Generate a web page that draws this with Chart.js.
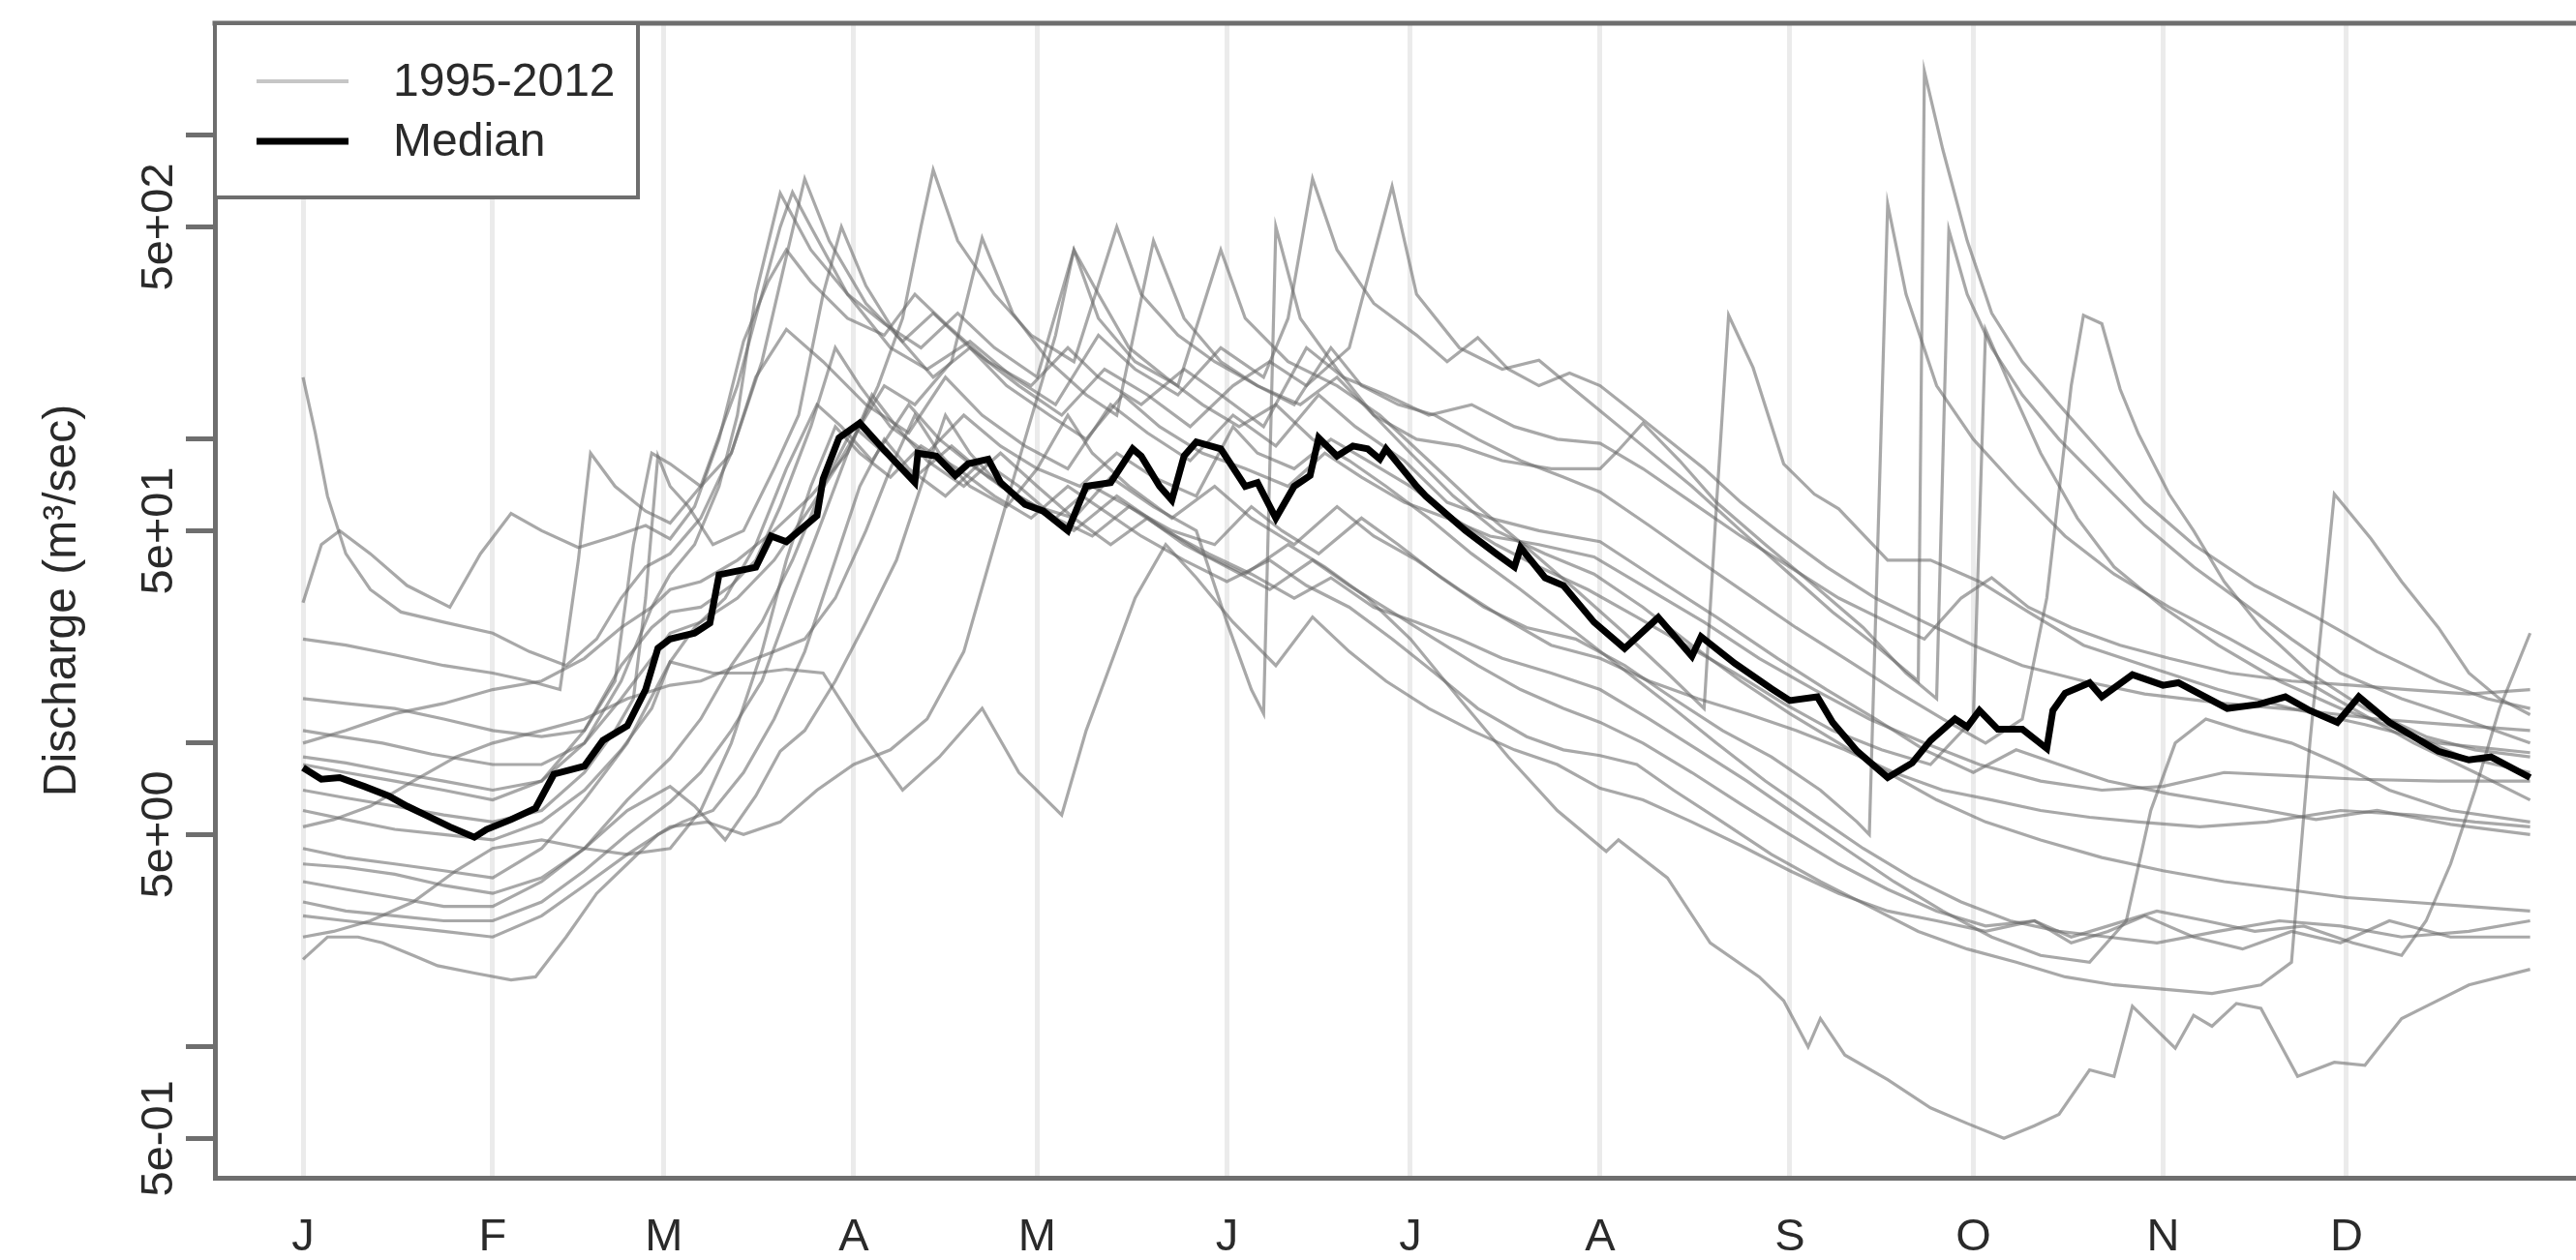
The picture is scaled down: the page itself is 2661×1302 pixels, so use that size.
<!DOCTYPE html>
<html>
<head>
<meta charset="utf-8">
<script src="https://cdn.jsdelivr.net/npm/chart.js@4.4.1/dist/chart.umd.min.js"></script>
<style>
  html, body { margin: 0; padding: 0; background: #fff; }
  #chart { display: block; }
</style>
</head>
<body>
<canvas id="chart" width="2661" height="1302"></canvas>
<script>
// axis labels
const monthLabels = ["J", "F", "M", "A", "M", "J", "J", "A", "S", "O", "N", "D"];
const monthStartDays = [1, 32, 60, 91, 121, 152, 182, 213, 244, 274, 305, 335];
const yTickValues = [0.5, 1, 5, 10, 50, 100, 500, 1000];
const yTickLabels = ["5e-01", "", "5e+00", "", "5e+01", "", "5e+02", ""];
const legendLabels = ["1995-2012", "Median"];

// median discharge, [day of year, m3/s]
const medianQ = [[1,8.3],[4,7.6],[7,7.7],[11,7.2],[15,6.7],[18,6.2],[21,5.8],[25,5.3],[29,4.9],[31,5.2],[35,5.6],[39,6.1],[42,7.9],[47,8.4],[50,10.2],[54,11.4],[57,15],[59,20.5],[61,22],[65,23],[67.5,24.8],[69,35.8],[75,37.9],[77.5,48],[80,46],[85,56],[86,74],[88.6,101],[92,113],[96,92],[101,72],[101.5,90],[104.5,88],[107.6,76],[109.7,83],[113,86],[115,72],[119,61],[122,58],[126,50],[129,70],[133,72],[136.6,93],[138,88],[141,70],[143,63],[145,88],[147,98],[151,93],[155,70],[157,72],[160,55],[163,70],[165.6,76],[167,101],[170,88],[172.6,95],[175,93],[177,86],[178,93],[183,70],[184.5,65],[191,50],[196,42],[199,38],[200,44],[204,35],[207,33],[212,25],[217,20.5],[222.5,25.9],[228,19.3],[229.5,22.4],[235,18.3],[241,15.1],[244,13.8],[248.5,14.2],[251,11.7],[255,9.4],[260,7.7],[264,8.6],[267,10.2],[271,12],[273,11.3],[275,12.8],[278,11.1],[282,11.1],[286,9.6],[287,12.8],[289,14.6],[293,15.8],[295,14.2],[300,16.8],[305,15.5],[307.5,15.8],[315.5,13],[320.6,13.4],[325,14.2],[329,12.8],[333.5,11.7],[337,14.2],[342,11.7],[350,9.4],[355,8.8],[358.6,9],[365,7.7]];

// yearly series, [day of year, m3/s]
const q1995 = [[1,160],[3,105],[5,65],[8,42],[12,32],[17,27],[24,25],[32,23],[38,20],[44,18],[49,22],[53,30],[57,38],[61,42],[66,55],[71,90],[75,160],[80,230],[86,180],[93,130],[100,105],[106,160],[112,120],[119,95],[126,80],[133,130],[139,105],[146,85],[153,120],[160,95],[167,140],[173,110],[181,85],[188,62],[195,55],[203,50],[213,46],[222,35],[232,26],[242,19],[250,15],[258,12],[266,9.5],[274,8],[281,9.5],[288,8.5],[296,7.5],[306,6.8],[318,6.2],[330,5.6],[340,6],[352,5.4],[365,5]];
const q1996 = [[1,29],[4,45],[7,50],[12,42],[18,33],[25,28],[30,42],[35,57],[40,50],[46,44],[52,48],[57,52],[61,47],[65,60],[69,100],[73,210],[77,330],[80,420],[84,330],[90,250],[96,220],[101,300],[106,240],[113,180],[120,150],[126,200],[131,160],[138,130],[145,170],[151,140],[158,110],[165,200],[171,160],[178,140],[185,120],[192,130],[199,110],[206,100],[213,97],[220,80],[228,62],[236,48],[244,38],[252,30],[260,25],[266,22],[272,30],[277,35],[283,28],[290,24],[298,21],[306,19],[316,17],[326,16],[336,15.5],[345,15],[355,14.5],[365,15]];
const q1997 = [[1,22],[8,21],[16,19.5],[24,18],[32,17],[38,16],[43,15],[46,40],[48,90],[52,70],[57,58],[61,53],[66,70],[72,150],[76,300],[79,500],[81,650],[84,500],[90,300],[97,200],[103,170],[110,210],[117,160],[124,130],[131,220],[137,170],[144,140],[151,200],[158,160],[162,250],[166,720],[170,420],[176,280],[183,220],[188,180],[193,216],[198,170],[203,150],[208,165],[213,150],[218,125],[224,100],[230,80],[236,62],[242,50],[250,38],[258,30],[266,25],[274,21],[282,18],[292,16],[302,14.5],[315,13.5],[328,12.8],[340,12],[352,11.5],[365,11]];
const q1998 = [[1,14],[8,13.5],[16,13],[24,12],[32,11],[40,10.5],[47,11],[52,16],[55,45],[58,90],[61,83],[66,70],[71,90],[76,180],[80,400],[83,720],[87,450],[93,280],[99,210],[104,260],[110,200],[118,150],[125,120],[132,170],[139,140],[146,110],[153,150],[159,180],[165,150],[172,200],[179,680],[183,300],[190,200],[197,170],[203,182],[208,150],[213,124],[220,95],[228,70],[236,50],[244,36],[251,27],[258,21],[265,16],[266,1626],[269,900],[273,450],[277,260],[282,180],[288,130],[295,90],[302,62],[310,45],[320,33],[330,26],[340,20],[350,16],[358,14],[365,13]];
const q1999 = [[1,11],[7,10.5],[14,10],[22,9.2],[32,8.5],[40,8.5],[47,10],[53,16],[58,28],[61,36],[65,45],[69,70],[72,120],[75,300],[79,645],[84,420],[90,300],[96,240],[102,200],[108,260],[114,200],[121,160],[127,420],[131,250],[137,180],[144,150],[151,420],[155,250],[162,180],[170,150],[177,120],[185,85],[193,60],[201,44],[209,32],[217,23],[224,17],[230,13],[232,60],[234,256],[238,172],[243,83],[248,66],[252,59],[260,40],[267,40],[275,34],[283,27],[292,21],[302,18],[314,15],[326,13],[338,11.5],[350,10],[365,9.3]];
const q2000 = [[1,10],[8,11],[16,12.5],[24,13.5],[32,15],[40,16],[47,19],[53,24],[58,28],[61,32],[66,34],[72,40],[78,50],[84,65],[90,90],[95,150],[99,250],[102,500],[104,770],[108,450],[114,300],[120,220],[127,180],[134,500],[138,300],[144,220],[150,180],[157,150],[164,130],[170,160],[176,120],[183,100],[190,95],[197,85],[205,80],[213,80],[216,92],[220,113],[226,85],[232,62],[240,45],[248,33],[256,24],[263,17],[268,14],[270,488],[273,300],[277,200],[282,140],[288,100],[295,72],[302,52],[310,38],[318,29],[326,22],[334,17],[344,14],[354,12],[365,10]];
const q2001 = [[1,9],[8,8.6],[16,8],[24,7.5],[32,7],[40,7.5],[47,10],[53,14],[58,19],[61,23],[66,25],[72,30],[78,40],[84,60],[88,80],[92,110],[96,150],[101,130],[107,180],[112,460],[117,260],[123,180],[129,140],[134,120],[140,450],[145,250],[151,180],[157,150],[163,130],[169,200],[174,150],[180,130],[186,120],[193,100],[200,85],[207,75],[213,67],[221,52],[229,40],[237,31],[245,24],[253,19],[261,15],[269,12],[276,10],[282,12],[286,30],[290,150],[292,256],[295,240],[298,146],[301,104],[306,66],[310,50],[315,34],[321,24],[329,17],[338,13],[348,10.5],[356,9.5],[365,9]];
const q2002 = [[1,8.5],[8,8],[16,7.5],[24,7],[32,6.5],[40,7.5],[47,11],[53,18],[58,24],[61,27],[66,28],[71,33],[75,40],[79,60],[84,110],[88,200],[92,150],[97,110],[103,90],[109,120],[115,95],[121,80],[128,70],[134,90],[140,75],[147,65],[153,110],[157,90],[163,80],[169,100],[175,85],[182,70],[189,55],[196,45],[203,38],[211,32],[219,26],[227,21],[235,17],[243,13.5],[251,11],[259,9.5],[267,8.5],[274,12],[276,229],[280,150],[285,90],[291,55],[297,38],[305,28],[314,21],[324,16],[334,13],[344,11],[354,9],[365,8]];
const q2003 = [[1,7],[8,6.6],[16,6.2],[24,5.8],[32,5.5],[40,6],[47,8],[52,11],[55,14],[57,30],[59,88],[61,70],[64,60],[68,45],[73,50],[78,80],[82,120],[86,300],[89,500],[93,320],[98,220],[104,160],[110,200],[116,150],[123,120],[129,100],[135,140],[141,110],[148,90],[155,80],[162,70],[168,90],[174,75],[181,62],[188,55],[195,48],[203,45],[212,41],[221,32],[230,25],[239,19],[248,15],[257,12],[266,10],[275,8.5],[285,7.5],[295,7],[305,7.2],[315,8],[326,7.8],[337,7.6],[350,7.5],[365,7.5]];
const q2004 = [[1,6],[8,5.6],[16,5.2],[24,5],[32,4.8],[40,5.5],[47,7],[53,9.5],[58,13],[61,18.5],[68,17],[75,17],[80,17.5],[86,17],[92,11],[99,7],[105,9],[112,13],[118,8],[125,5.8],[129,11],[132,16],[137,30],[142,45],[147,35],[153,25],[160,18],[166,26],[172,20],[178,16],[185,13],[192,11],[199,9.5],[206,8.5],[213,7.1],[220,6.5],[228,5.5],[236,4.6],[244,3.8],[252,3.2],[260,2.8],[268,2.6],[276,2.4],[284,2.6],[290,2.2],[296,2.4],[302,2.7],[310,2.3],[318,2.1],[326,2.4],[334,2.2],[342,2.6],[352,2.3],[365,2.3]];
const q2005 = [[1,5.3],[6,5.6],[12,6.2],[19,7.5],[26,9],[32,10],[40,11],[47,12],[54,14],[61,15.5],[66,16],[72,18],[78,20],[83,22],[88,30],[93,50],[97,80],[101,120],[105,90],[110,70],[116,60],[121,80],[126,120],[130,90],[136,70],[143,55],[150,70],[156,55],[163,45],[170,60],[176,48],[183,40],[190,32],[197,26],[205,21],[213,19],[221,16],[229,14],[237,12.5],[245,11],[253,9.5],[261,8],[269,7],[277,6.5],[285,6],[293,5.7],[301,5.5],[311,5.3],[322,5.5],[334,6],[346,5.8],[356,5.5],[365,5.3]];
const q2006 = [[1,4.5],[8,4.2],[16,4],[24,3.8],[32,3.6],[40,4.5],[47,6.5],[54,10],[61,18.5],[65,24],[70,30],[75,45],[80,80],[85,130],[89,110],[94,85],[100,130],[105,100],[111,80],[118,65],[124,55],[130,70],[136,60],[143,50],[150,45],[156,60],[161,50],[167,42],[174,55],[180,45],[187,35],[194,28],[201,24],[209,22],[217,18],[225,14],[233,11],[241,9],[249,7],[255,5.5],[257,5],[260,594],[263,300],[268,150],[274,100],[281,70],[289,48],[297,36],[306,28],[316,22],[326,17],[336,13],[346,10],[356,8],[365,6.5]];
const q2007 = [[1,4],[8,3.9],[16,3.7],[24,3.4],[32,3.2],[40,3.6],[47,4.5],[54,6],[61,7.2],[65,6.2],[70,4.8],[75,6.7],[79,9.4],[83,11],[88,16],[93,25],[98,40],[102,70],[106,120],[110,90],[115,70],[121,60],[127,55],[133,75],[140,60],[147,50],[152,25],[156,15],[158,12.5],[160,500],[164,250],[170,170],[176,120],[182,90],[189,65],[196,50],[204,42],[212,36],[220,28],[228,21],[236,16],[244,12.5],[252,10],[260,8],[268,6.5],[276,5.5],[285,4.8],[295,4.2],[305,3.8],[315,3.5],[325,3.3],[335,3.1],[345,3],[355,2.9],[365,2.8]];
const q2008 = [[1,3.5],[8,3.3],[16,3.1],[24,2.9],[32,2.9],[40,3.5],[47,4.5],[54,6.5],[61,8.9],[66,12],[71,18],[76,25],[81,40],[86,70],[91,110],[96,90],[101,75],[107,95],[113,75],[120,60],[127,50],[134,65],[141,52],[148,42],[155,36],[162,45],[168,38],[175,30],[182,22],[190,14],[198,9],[206,6],[214,4.4],[216,4.8],[224,3.6],[231,2.2],[239,1.7],[243,1.42],[247,1],[249,1.24],[253,0.94],[260,0.78],[267,0.63],[273,0.56],[279,0.5],[284,0.55],[288,0.6],[293,0.84],[297,0.8],[300,1.36],[307,0.99],[310,1.27],[313,1.17],[317,1.39],[321,1.34],[327,0.8],[333,0.89],[338,0.87],[344,1.24],[348,1.36],[355,1.6],[365,1.8]];
const q2009 = [[1,3],[8,2.8],[16,2.7],[24,2.6],[32,2.6],[40,3],[47,3.8],[54,5],[61,6.4],[66,8],[71,11],[76,16],[81,30],[86,55],[90,90],[94,140],[98,110],[103,85],[109,70],[115,90],[121,70],[127,55],[133,45],[139,55],[145,45],[152,38],[159,32],[166,40],[172,33],[179,27],[186,22],[193,18],[200,15],[207,13],[213,11.7],[220,10],[228,8],[236,6.3],[244,5],[252,4],[260,3.3],[268,2.8],[276,2.5],[284,2.6],[290,2.3],[296,2.5],[304,2.8],[312,2.6],[320,2.4],[328,2.5],[336,2.2],[344,2],[348,2.6],[352,4],[356,7],[360,13],[365,23]];
const q2010 = [[1,2.7],[8,2.6],[16,2.5],[24,2.4],[32,2.3],[40,2.7],[47,3.4],[54,4.3],[61,5.3],[67,5.5],[73,5],[79,5.5],[85,7],[91,8.5],[97,9.5],[103,12],[109,20],[114,45],[119,100],[124,220],[127,420],[131,300],[136,200],[142,160],[148,130],[154,110],[160,130],[166,100],[172,85],[178,70],[185,55],[192,42],[200,32],[208,24],[216,18],[224,13.5],[232,10],[240,7.5],[248,5.8],[256,4.5],[264,3.6],[272,3],[280,2.6],[288,2.4],[296,2.3],[304,2.2],[314,2.4],[324,2.6],[334,2.5],[344,2.3],[355,2.4],[365,2.6]];
const q2011 = [[1,2.3],[6,2.4],[12,2.6],[19,3],[26,3.8],[32,4.5],[40,4.8],[47,4.5],[54,4.3],[61,4.5],[66,6],[71,10],[76,20],[80,40],[84,70],[88,110],[92,90],[97,75],[102,95],[108,80],[114,65],[120,55],[126,70],[132,58],[138,48],[145,40],[152,34],[159,40],[165,33],[172,28],[179,22],[186,17],[193,13],[201,10.5],[207,9.5],[213,9.1],[219,8.5],[225,7],[233,5.5],[241,4.3],[249,3.5],[257,2.9],[265,2.4],[273,2.1],[281,1.9],[289,1.7],[297,1.6],[305,1.55],[313,1.5],[321,1.6],[326,1.9],[329,10],[333,66],[339,47],[344,34],[350,24],[355,17],[360,14],[365,12.4]];
const q2012 = [[1,1.94],[5,2.3],[10,2.3],[14,2.2],[19,2],[23,1.85],[29,1.75],[35,1.66],[39,1.7],[44,2.3],[49,3.2],[54,4],[59,5],[63,5.5],[68,6],[73,8],[78,12],[83,20],[88,40],[92,70],[96,100],[100,80],[106,65],[112,85],[118,70],[124,55],[130,48],[136,60],[142,50],[149,42],[156,36],[163,30],[169,35],[176,28],[183,25],[190,22],[197,19],[205,17],[213,15],[221,12],[229,9.5],[237,7.5],[245,5.8],[253,4.5],[261,3.5],[269,2.8],[277,2.3],[285,2],[293,1.9],[299,2.6],[303,6],[307,10],[312,12],[318,11],[326,10],[334,8.5],[342,7],[352,6],[365,5.5]];

const yearNames = ["1995","1996","1997","1998","1999","2000","2001","2002","2003","2004","2005","2006","2007","2008","2009","2010","2011","2012"];
const yearSeries = [q1995, q1996, q1997, q1998, q1999, q2000, q2001, q2002, q2003, q2004, q2005, q2006, q2007, q2008, q2009, q2010, q2011, q2012];

const axisColor = "#6e6e6e";
const yearColor = "rgba(105, 105, 105, 0.58)";
const textColor = "#2a2a2a";
const fontFamily = '"Liberation Sans", Arial, sans-serif';

Chart.defaults.font.family = fontFamily;

const toPoints = (rows) => rows.map(([d, q]) => ({ x: d, y: q }));

// median first so it is drawn on top
const datasets = [{
    label: legendLabels[1],
    data: toPoints(medianQ),
    borderColor: "#000",
    borderWidth: 7,
    pointRadius: 0,
    tension: 0,
    fill: false,
}];
yearSeries.forEach((rows, i) => {
    datasets.push({
        label: yearNames[i],
        data: toPoints(rows),
        borderColor: yearColor,
        borderWidth: 3.2,
        pointRadius: 0,
        tension: 0,
        fill: false,
    });
});

// top border of the box and the boxed legend
const frameLegend = {
    id: "frameLegend",
    afterDraw(chart) {
        const { ctx, chartArea: a } = chart;
        ctx.save();
        ctx.strokeStyle = axisColor;
        ctx.lineWidth = 5;
        ctx.beginPath();
        ctx.moveTo(a.left - 2.5, a.top);
        ctx.lineTo(a.right, a.top);
        ctx.stroke();

        const bw = 437, bh = 180;
        ctx.fillStyle = "#fff";
        ctx.fillRect(a.left, a.top, bw, bh);
        ctx.lineWidth = 4;
        ctx.strokeRect(a.left, a.top, bw, bh);

        const samples = [
            { color: "#c6c6c6", width: 4 },
            { color: "#000", width: 7 },
        ];
        ctx.font = "48px " + fontFamily;
        ctx.textAlign = "left";
        ctx.textBaseline = "middle";
        samples.forEach((s, i) => {
            const y = a.top + 60 + i * 62;
            ctx.strokeStyle = s.color;
            ctx.lineWidth = s.width;
            ctx.beginPath();
            ctx.moveTo(a.left + 43, y);
            ctx.lineTo(a.left + 138, y);
            ctx.stroke();
            ctx.fillStyle = textColor;
            ctx.fillText(legendLabels[i], a.left + 184, y + 2);
        });
        ctx.restore();
    }
};

new Chart(document.getElementById("chart"), {
    type: "line",
    data: { datasets },
    options: {
        responsive: false,
        animation: false,
        devicePixelRatio: 1,
        layout: { padding: { top: 24, right: 0, bottom: 0, left: 0 } },
        plugins: {
            legend: { display: false },
            tooltip: { enabled: false },
        },
        scales: {
            x: {
                type: "linear",
                min: -13.4,
                max: 372.5,
                afterBuildTicks: (scale) => {
                    scale.ticks = monthStartDays.map((v) => ({ value: v }));
                },
                afterFit: (scale) => { scale.height = 85; },
                ticks: {
                    autoSkip: false,
                    maxRotation: 0,
                    padding: 34,
                    color: textColor,
                    font: { size: 47 },
                    callback: (v, i) => monthLabels[i],
                },
                grid: { color: "#ebebeb", lineWidth: 5, drawTicks: false },
                border: { color: axisColor, width: 5 },
            },
            y: {
                type: "logarithmic",
                min: 0.371,
                max: 2340,
                afterBuildTicks: (scale) => {
                    scale.ticks = yTickValues.map((v) => ({ value: v }));
                },
                afterFit: (scale) => { scale.width = 222; },
                ticks: {
                    minRotation: 90,
                    maxRotation: 90,
                    crossAlign: "center",
                    padding: -39,
                    color: textColor,
                    font: { size: 47 },
                    callback: (v, i) => yTickLabels[i],
                },
                grid: {
                    drawOnChartArea: false,
                    drawTicks: true,
                    tickLength: 30,
                    tickWidth: 5,
                    tickColor: axisColor,
                },
                border: { color: axisColor, width: 5 },
                title: {
                    display: true,
                    text: "Discharge (m³/sec)",
                    color: textColor,
                    font: { size: 48 },
                    padding: { top: 36, bottom: 0 },
                },
            },
        },
    },
    plugins: [frameLegend],
});
</script>
</body>
</html>
